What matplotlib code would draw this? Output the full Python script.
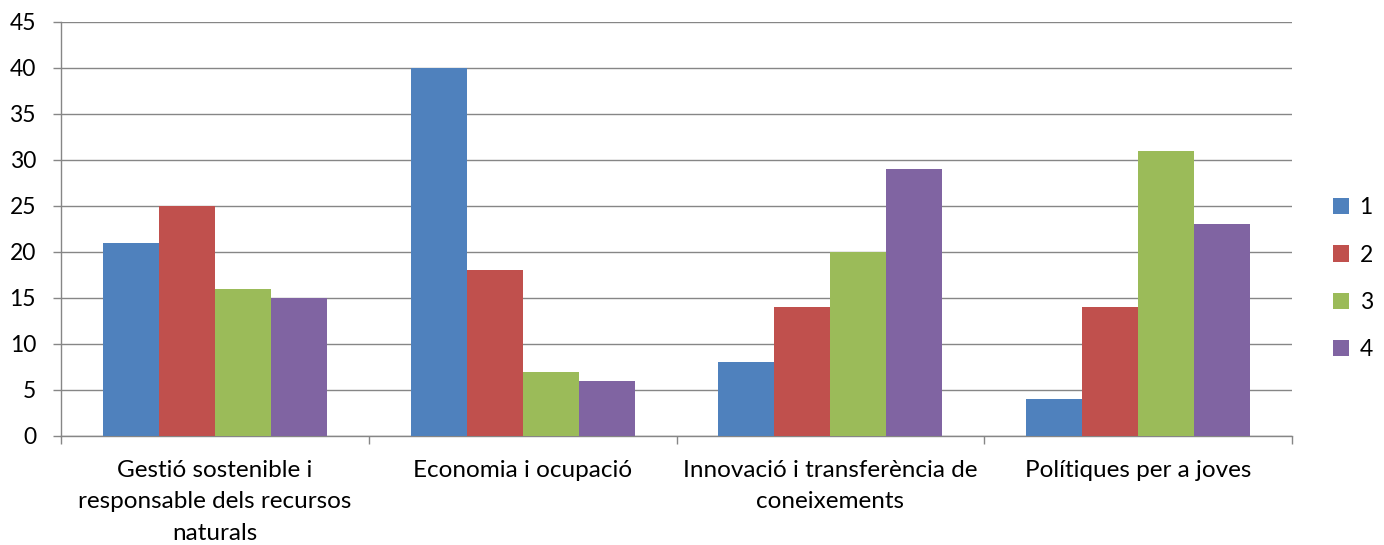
import matplotlib
matplotlib.use("Agg")
import matplotlib.pyplot as plt
import numpy as np

categories = ["Gestió sostenible i\nresponsable dels recursos\nnaturals",
              "Economia i ocupació",
              "Innovació i transferència de\nconeixements",
              "Polítiques per a joves"]
series_names = ["1", "2", "3", "4"]
s1 = [21, 40, 8, 4]
s2 = [25, 18, 14, 14]
s3 = [16, 7, 20, 31]
s4 = [15, 6, 29, 23]
colors = ["#4F81BD", "#C0504D", "#9BBB59", "#8064A2"]
yticks = [0, 5, 10, 15, 20, 25, 30, 35, 40, 45]

plt.rcParams['font.family'] = ['Lato', 'DejaVu Sans']
fs = 16.5
fig = plt.figure(figsize=(13.84, 5.45), dpi=100)
ax = fig.add_axes([61/1384, 1-436/545, (1292-61)/1384, (436-22)/545])

x = np.arange(len(categories))
bw = 1/5.5
for i, (vals, name, c) in enumerate(zip([s1, s2, s3, s4], series_names, colors)):
    ax.bar(x + (i - 1.5)*bw, vals, width=bw, color=c, label=name, zorder=3)

grid_c = "#868686"
ax.set_xlim(-0.5, len(categories)-0.5)
ax.set_ylim(0, 45)
ax.set_yticks(yticks)
ax.set_yticklabels([str(v) for v in yticks], fontsize=fs)
ax.yaxis.grid(True, color=grid_c, linewidth=1, zorder=0)
ax.tick_params(axis='y', length=6, color=grid_c, width=1, pad=12)
ax.set_xticks(x)
ax.set_xticklabels(categories, fontsize=17.5, linespacing=1.62)
ax.tick_params(axis='x', which='major', length=0, pad=17)
ax.set_xticks(np.arange(-0.5, len(categories), 1), minor=True)
ax.tick_params(axis='x', which='minor', length=6, color=grid_c, width=1)
for s in ['top', 'right']:
    ax.spines[s].set_visible(False)
for s in ['left', 'bottom']:
    ax.spines[s].set_color(grid_c)
    ax.spines[s].set_linewidth(1)

leg = ax.legend(loc='center left', bbox_to_anchor=(1.026, 0.38), frameon=False,
                fontsize=fs, handlelength=0.7, handleheight=0.7,
                labelspacing=1.15, handletextpad=0.45, borderaxespad=0)

fig.savefig("out.png", dpi=100)
